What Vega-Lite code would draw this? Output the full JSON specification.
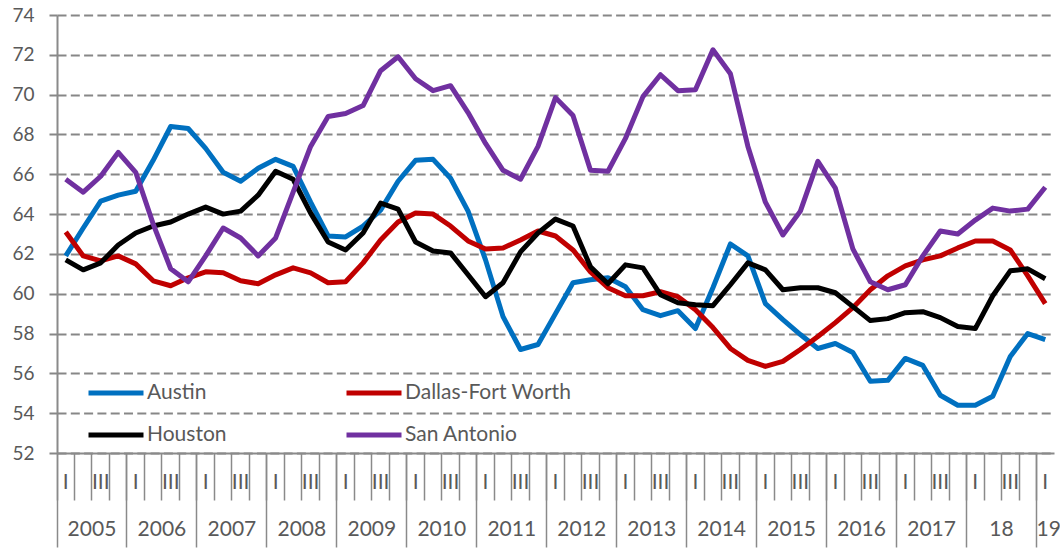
{
"$schema": "https://vega.github.io/schema/vega-lite/v6.json",
"width": 997, "height": 438,
"autosize": {"type": "none"},
"padding": {"left": 57, "top": 15, "right": 6, "bottom": 95},
"background": "white",
"config": {"view": {"stroke": null}, "font": "Lato"},
"data": {"values": [
{"period":"2005 Q1","city":"Austin","value":61.9},{"period":"2005 Q2","city":"Austin","value":63.3},{"period":"2005 Q3","city":"Austin","value":64.65},{"period":"2005 Q4","city":"Austin","value":64.95},
{"period":"2006 Q1","city":"Austin","value":65.15},{"period":"2006 Q2","city":"Austin","value":66.7},{"period":"2006 Q3","city":"Austin","value":68.4},{"period":"2006 Q4","city":"Austin","value":68.3},
{"period":"2007 Q1","city":"Austin","value":67.3},{"period":"2007 Q2","city":"Austin","value":66.1},{"period":"2007 Q3","city":"Austin","value":65.65},{"period":"2007 Q4","city":"Austin","value":66.3},
{"period":"2008 Q1","city":"Austin","value":66.75},{"period":"2008 Q2","city":"Austin","value":66.4},{"period":"2008 Q3","city":"Austin","value":64.6},{"period":"2008 Q4","city":"Austin","value":62.9},
{"period":"2009 Q1","city":"Austin","value":62.85},{"period":"2009 Q2","city":"Austin","value":63.4},{"period":"2009 Q3","city":"Austin","value":64.2},{"period":"2009 Q4","city":"Austin","value":65.65},
{"period":"2010 Q1","city":"Austin","value":66.7},{"period":"2010 Q2","city":"Austin","value":66.75},{"period":"2010 Q3","city":"Austin","value":65.8},{"period":"2010 Q4","city":"Austin","value":64.15},
{"period":"2011 Q1","city":"Austin","value":61.7},{"period":"2011 Q2","city":"Austin","value":58.85},{"period":"2011 Q3","city":"Austin","value":57.2},{"period":"2011 Q4","city":"Austin","value":57.45},
{"period":"2012 Q1","city":"Austin","value":59.0},{"period":"2012 Q2","city":"Austin","value":60.55},{"period":"2012 Q3","city":"Austin","value":60.7},{"period":"2012 Q4","city":"Austin","value":60.8},
{"period":"2013 Q1","city":"Austin","value":60.35},{"period":"2013 Q2","city":"Austin","value":59.2},{"period":"2013 Q3","city":"Austin","value":58.9},{"period":"2013 Q4","city":"Austin","value":59.15},
{"period":"2014 Q1","city":"Austin","value":58.25},{"period":"2014 Q2","city":"Austin","value":60.3},{"period":"2014 Q3","city":"Austin","value":62.5},{"period":"2014 Q4","city":"Austin","value":61.9},
{"period":"2015 Q1","city":"Austin","value":59.5},{"period":"2015 Q2","city":"Austin","value":58.7},{"period":"2015 Q3","city":"Austin","value":57.95},{"period":"2015 Q4","city":"Austin","value":57.25},
{"period":"2016 Q1","city":"Austin","value":57.5},{"period":"2016 Q2","city":"Austin","value":57.05},{"period":"2016 Q3","city":"Austin","value":55.6},{"period":"2016 Q4","city":"Austin","value":55.65},
{"period":"2017 Q1","city":"Austin","value":56.75},{"period":"2017 Q2","city":"Austin","value":56.4},{"period":"2017 Q3","city":"Austin","value":54.9},{"period":"2017 Q4","city":"Austin","value":54.4},
{"period":"2018 Q1","city":"Austin","value":54.4},{"period":"2018 Q2","city":"Austin","value":54.85},{"period":"2018 Q3","city":"Austin","value":56.85},{"period":"2018 Q4","city":"Austin","value":58.0},
{"period":"2019 Q1","city":"Austin","value":57.7},
{"period":"2005 Q1","city":"Dallas-Fort Worth","value":63.1},{"period":"2005 Q2","city":"Dallas-Fort Worth","value":61.9},{"period":"2005 Q3","city":"Dallas-Fort Worth","value":61.65},{"period":"2005 Q4","city":"Dallas-Fort Worth","value":61.9},
{"period":"2006 Q1","city":"Dallas-Fort Worth","value":61.5},{"period":"2006 Q2","city":"Dallas-Fort Worth","value":60.65},{"period":"2006 Q3","city":"Dallas-Fort Worth","value":60.4},{"period":"2006 Q4","city":"Dallas-Fort Worth","value":60.8},
{"period":"2007 Q1","city":"Dallas-Fort Worth","value":61.1},{"period":"2007 Q2","city":"Dallas-Fort Worth","value":61.05},{"period":"2007 Q3","city":"Dallas-Fort Worth","value":60.65},{"period":"2007 Q4","city":"Dallas-Fort Worth","value":60.5},
{"period":"2008 Q1","city":"Dallas-Fort Worth","value":60.95},{"period":"2008 Q2","city":"Dallas-Fort Worth","value":61.3},{"period":"2008 Q3","city":"Dallas-Fort Worth","value":61.05},{"period":"2008 Q4","city":"Dallas-Fort Worth","value":60.55},
{"period":"2009 Q1","city":"Dallas-Fort Worth","value":60.6},{"period":"2009 Q2","city":"Dallas-Fort Worth","value":61.55},{"period":"2009 Q3","city":"Dallas-Fort Worth","value":62.7},{"period":"2009 Q4","city":"Dallas-Fort Worth","value":63.6},
{"period":"2010 Q1","city":"Dallas-Fort Worth","value":64.05},{"period":"2010 Q2","city":"Dallas-Fort Worth","value":64.0},{"period":"2010 Q3","city":"Dallas-Fort Worth","value":63.4},{"period":"2010 Q4","city":"Dallas-Fort Worth","value":62.65},
{"period":"2011 Q1","city":"Dallas-Fort Worth","value":62.25},{"period":"2011 Q2","city":"Dallas-Fort Worth","value":62.3},{"period":"2011 Q3","city":"Dallas-Fort Worth","value":62.7},{"period":"2011 Q4","city":"Dallas-Fort Worth","value":63.15},
{"period":"2012 Q1","city":"Dallas-Fort Worth","value":62.9},{"period":"2012 Q2","city":"Dallas-Fort Worth","value":62.2},{"period":"2012 Q3","city":"Dallas-Fort Worth","value":61.1},{"period":"2012 Q4","city":"Dallas-Fort Worth","value":60.3},
{"period":"2013 Q1","city":"Dallas-Fort Worth","value":59.9},{"period":"2013 Q2","city":"Dallas-Fort Worth","value":59.9},{"period":"2013 Q3","city":"Dallas-Fort Worth","value":60.1},{"period":"2013 Q4","city":"Dallas-Fort Worth","value":59.85},
{"period":"2014 Q1","city":"Dallas-Fort Worth","value":59.2},{"period":"2014 Q2","city":"Dallas-Fort Worth","value":58.3},{"period":"2014 Q3","city":"Dallas-Fort Worth","value":57.25},{"period":"2014 Q4","city":"Dallas-Fort Worth","value":56.65},
{"period":"2015 Q1","city":"Dallas-Fort Worth","value":56.35},{"period":"2015 Q2","city":"Dallas-Fort Worth","value":56.6},{"period":"2015 Q3","city":"Dallas-Fort Worth","value":57.2},{"period":"2015 Q4","city":"Dallas-Fort Worth","value":57.85},
{"period":"2016 Q1","city":"Dallas-Fort Worth","value":58.55},{"period":"2016 Q2","city":"Dallas-Fort Worth","value":59.3},{"period":"2016 Q3","city":"Dallas-Fort Worth","value":60.2},{"period":"2016 Q4","city":"Dallas-Fort Worth","value":60.9},
{"period":"2017 Q1","city":"Dallas-Fort Worth","value":61.4},{"period":"2017 Q2","city":"Dallas-Fort Worth","value":61.7},{"period":"2017 Q3","city":"Dallas-Fort Worth","value":61.9},{"period":"2017 Q4","city":"Dallas-Fort Worth","value":62.3},
{"period":"2018 Q1","city":"Dallas-Fort Worth","value":62.65},{"period":"2018 Q2","city":"Dallas-Fort Worth","value":62.65},{"period":"2018 Q3","city":"Dallas-Fort Worth","value":62.2},{"period":"2018 Q4","city":"Dallas-Fort Worth","value":60.9},
{"period":"2019 Q1","city":"Dallas-Fort Worth","value":59.5},
{"period":"2005 Q1","city":"Houston","value":61.7},{"period":"2005 Q2","city":"Houston","value":61.2},{"period":"2005 Q3","city":"Houston","value":61.55},{"period":"2005 Q4","city":"Houston","value":62.45},
{"period":"2006 Q1","city":"Houston","value":63.05},{"period":"2006 Q2","city":"Houston","value":63.4},{"period":"2006 Q3","city":"Houston","value":63.6},{"period":"2006 Q4","city":"Houston","value":64.0},
{"period":"2007 Q1","city":"Houston","value":64.35},{"period":"2007 Q2","city":"Houston","value":64.0},{"period":"2007 Q3","city":"Houston","value":64.15},{"period":"2007 Q4","city":"Houston","value":64.95},
{"period":"2008 Q1","city":"Houston","value":66.15},{"period":"2008 Q2","city":"Houston","value":65.75},{"period":"2008 Q3","city":"Houston","value":64.05},{"period":"2008 Q4","city":"Houston","value":62.6},
{"period":"2009 Q1","city":"Houston","value":62.2},{"period":"2009 Q2","city":"Houston","value":63.05},{"period":"2009 Q3","city":"Houston","value":64.55},{"period":"2009 Q4","city":"Houston","value":64.25},
{"period":"2010 Q1","city":"Houston","value":62.6},{"period":"2010 Q2","city":"Houston","value":62.15},{"period":"2010 Q3","city":"Houston","value":62.05},{"period":"2010 Q4","city":"Houston","value":60.95},
{"period":"2011 Q1","city":"Houston","value":59.85},{"period":"2011 Q2","city":"Houston","value":60.55},{"period":"2011 Q3","city":"Houston","value":62.1},{"period":"2011 Q4","city":"Houston","value":63.05},
{"period":"2012 Q1","city":"Houston","value":63.75},{"period":"2012 Q2","city":"Houston","value":63.4},{"period":"2012 Q3","city":"Houston","value":61.35},{"period":"2012 Q4","city":"Houston","value":60.5},
{"period":"2013 Q1","city":"Houston","value":61.45},{"period":"2013 Q2","city":"Houston","value":61.3},{"period":"2013 Q3","city":"Houston","value":59.95},{"period":"2013 Q4","city":"Houston","value":59.55},
{"period":"2014 Q1","city":"Houston","value":59.45},{"period":"2014 Q2","city":"Houston","value":59.4},{"period":"2014 Q3","city":"Houston","value":60.45},{"period":"2014 Q4","city":"Houston","value":61.55},
{"period":"2015 Q1","city":"Houston","value":61.2},{"period":"2015 Q2","city":"Houston","value":60.2},{"period":"2015 Q3","city":"Houston","value":60.3},{"period":"2015 Q4","city":"Houston","value":60.3},
{"period":"2016 Q1","city":"Houston","value":60.05},{"period":"2016 Q2","city":"Houston","value":59.35},{"period":"2016 Q3","city":"Houston","value":58.65},{"period":"2016 Q4","city":"Houston","value":58.75},
{"period":"2017 Q1","city":"Houston","value":59.05},{"period":"2017 Q2","city":"Houston","value":59.1},{"period":"2017 Q3","city":"Houston","value":58.8},{"period":"2017 Q4","city":"Houston","value":58.35},
{"period":"2018 Q1","city":"Houston","value":58.25},{"period":"2018 Q2","city":"Houston","value":59.9},{"period":"2018 Q3","city":"Houston","value":61.15},{"period":"2018 Q4","city":"Houston","value":61.25},
{"period":"2019 Q1","city":"Houston","value":60.75},
{"period":"2005 Q1","city":"San Antonio","value":65.75},{"period":"2005 Q2","city":"San Antonio","value":65.1},{"period":"2005 Q3","city":"San Antonio","value":65.9},{"period":"2005 Q4","city":"San Antonio","value":67.1},
{"period":"2006 Q1","city":"San Antonio","value":66.1},{"period":"2006 Q2","city":"San Antonio","value":63.5},{"period":"2006 Q3","city":"San Antonio","value":61.25},{"period":"2006 Q4","city":"San Antonio","value":60.6},
{"period":"2007 Q1","city":"San Antonio","value":61.9},{"period":"2007 Q2","city":"San Antonio","value":63.3},{"period":"2007 Q3","city":"San Antonio","value":62.8},{"period":"2007 Q4","city":"San Antonio","value":61.9},
{"period":"2008 Q1","city":"San Antonio","value":62.8},{"period":"2008 Q2","city":"San Antonio","value":65.1},{"period":"2008 Q3","city":"San Antonio","value":67.4},{"period":"2008 Q4","city":"San Antonio","value":68.9},
{"period":"2009 Q1","city":"San Antonio","value":69.05},{"period":"2009 Q2","city":"San Antonio","value":69.45},{"period":"2009 Q3","city":"San Antonio","value":71.2},{"period":"2009 Q4","city":"San Antonio","value":71.9},
{"period":"2010 Q1","city":"San Antonio","value":70.8},{"period":"2010 Q2","city":"San Antonio","value":70.2},{"period":"2010 Q3","city":"San Antonio","value":70.45},{"period":"2010 Q4","city":"San Antonio","value":69.1},
{"period":"2011 Q1","city":"San Antonio","value":67.55},{"period":"2011 Q2","city":"San Antonio","value":66.2},{"period":"2011 Q3","city":"San Antonio","value":65.75},{"period":"2011 Q4","city":"San Antonio","value":67.4},
{"period":"2012 Q1","city":"San Antonio","value":69.85},{"period":"2012 Q2","city":"San Antonio","value":68.95},{"period":"2012 Q3","city":"San Antonio","value":66.2},{"period":"2012 Q4","city":"San Antonio","value":66.15},
{"period":"2013 Q1","city":"San Antonio","value":67.8},{"period":"2013 Q2","city":"San Antonio","value":69.9},{"period":"2013 Q3","city":"San Antonio","value":71.0},{"period":"2013 Q4","city":"San Antonio","value":70.2},
{"period":"2014 Q1","city":"San Antonio","value":70.25},{"period":"2014 Q2","city":"San Antonio","value":72.25},{"period":"2014 Q3","city":"San Antonio","value":71.05},{"period":"2014 Q4","city":"San Antonio","value":67.4},
{"period":"2015 Q1","city":"San Antonio","value":64.6},{"period":"2015 Q2","city":"San Antonio","value":62.95},{"period":"2015 Q3","city":"San Antonio","value":64.15},{"period":"2015 Q4","city":"San Antonio","value":66.65},
{"period":"2016 Q1","city":"San Antonio","value":65.3},{"period":"2016 Q2","city":"San Antonio","value":62.25},{"period":"2016 Q3","city":"San Antonio","value":60.6},{"period":"2016 Q4","city":"San Antonio","value":60.2},
{"period":"2017 Q1","city":"San Antonio","value":60.45},{"period":"2017 Q2","city":"San Antonio","value":61.9},{"period":"2017 Q3","city":"San Antonio","value":63.15},{"period":"2017 Q4","city":"San Antonio","value":63.0},
{"period":"2018 Q1","city":"San Antonio","value":63.7},{"period":"2018 Q2","city":"San Antonio","value":64.3},{"period":"2018 Q3","city":"San Antonio","value":64.15},{"period":"2018 Q4","city":"San Antonio","value":64.25},
{"period":"2019 Q1","city":"San Antonio","value":65.35}
]},
"layer": [
{
"mark": {"type": "line", "strokeWidth": 5, "strokeJoin": "round"},
"encoding": {
"x": {"field": "period", "type": "ordinal",
"scale": {"type": "band", "paddingInner": 0, "paddingOuter": 0},
"axis": {"orient": "bottom", "title": null, "grid": false, "bandPosition": 0, "tickSize": 47, "tickWidth": 1.5, "tickColor": "#8a8a8a", "domainColor": "#8a8a8a", "domainWidth": 2,
"labelExpr": "indexof(datum.value, 'Q1') >= 0 ? 'I' : (indexof(datum.value, 'Q3') >= 0 ? 'III' : '')",
"labelAngle": 0, "labelPadding": -18, "labelBaseline": "middle", "labelFontSize": 21, "labelColor": "#595959", "labelOverlap": false}},
"y": {"field": "value", "type": "quantitative",
"scale": {"domain": [52, 74], "nice": false, "zero": false},
"axis": {"title": null, "values": [52, 54, 56, 58, 60, 62, 64, 66, 68, 70, 72, 74], "grid": true, "gridDash": [9, 4.3], "gridColor": "#878787", "gridWidth": 2,
"tickSize": 8, "tickColor": "#878787", "tickWidth": 2, "domainColor": "#8a8a8a", "domainWidth": 2,
"labelFontSize": 19, "labelColor": "#595959", "labelPadding": 15}},
"color": {"field": "city", "type": "nominal",
"scale": {"domain": ["Austin", "Dallas-Fort Worth", "Houston", "San Antonio"], "range": ["#0070C0", "#C00000", "#000000", "#7030A0"]},
"legend": {"title": null, "orient": "none", "legendX": 29, "legendY": 348, "columns": 2, "direction": "horizontal", "columnPadding": 109, "labelLimit": 300, "labelOffset": 1,
"symbolSize": 3025, "symbolStrokeWidth": 5, "labelFontSize": 21, "labelColor": "#595959"}}
}
},
{
"mark": {"type": "point", "opacity": 0},
"encoding": {
"x": {"field": "period", "type": "ordinal",
"scale": {"type": "band", "paddingInner": 0, "paddingOuter": 0},
"axis": {"orient": "bottom", "title": null, "grid": false, "domain": false, "labels": false, "bandPosition": 0,
"values": ["2005 Q1","2006 Q1","2007 Q1","2008 Q1","2009 Q1","2010 Q1","2011 Q1","2012 Q1","2013 Q1","2014 Q1","2015 Q1","2016 Q1","2017 Q1","2018 Q1","2019 Q1"],
"tickSize": 94, "tickWidth": 1.5, "tickColor": "#8a8a8a"}}
}
},
{
"mark": {"type": "point", "opacity": 0},
"encoding": {
"x": {"field": "period", "type": "ordinal",
"scale": {"type": "band", "paddingInner": 0, "paddingOuter": 0},
"axis": {"orient": "bottom", "title": null, "grid": false, "domain": false, "ticks": false, "bandPosition": 0,
"values": ["2005 Q3","2006 Q3","2007 Q3","2008 Q3","2009 Q3","2010 Q3","2011 Q3","2012 Q3","2013 Q3","2014 Q3","2015 Q3","2016 Q3","2017 Q3","2018 Q3","2019 Q1"],
"labelExpr": "substring(datum.value, 0, 4) == '2018' ? '18' : (substring(datum.value, 0, 4) == '2019' ? '19' : substring(datum.value, 0, 4))",
"labelAlign": {"condition": {"test": "datum.value == '2019 Q1'", "value": "left"}, "value": "center"},
"labelAngle": 0, "labelOffset": -8.75, "labelPadding": 76, "labelBaseline": "middle", "labelFontSize": 21, "labelColor": "#595959", "labelOverlap": false}}
}
}
],
"resolve": {"axis": {"x": "independent"}}
}
